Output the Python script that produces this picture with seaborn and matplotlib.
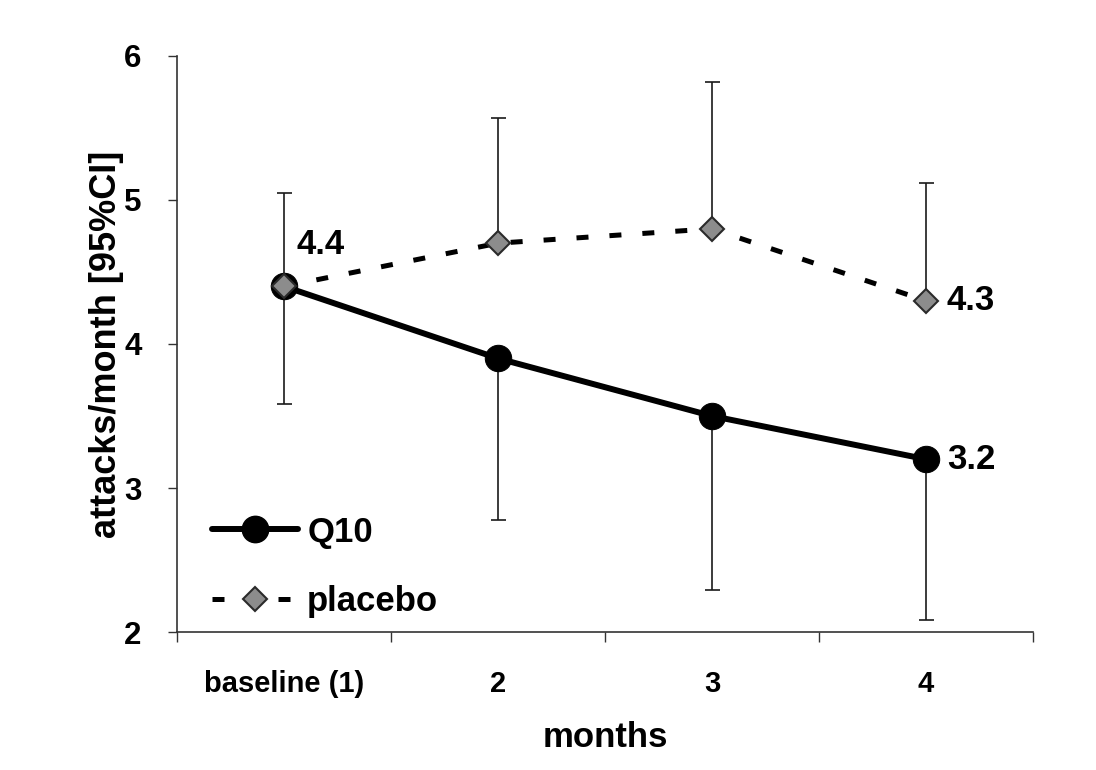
import matplotlib
matplotlib.use("Agg")
import matplotlib.pyplot as plt
from matplotlib.lines import Line2D
import seaborn as sns
import pandas as pd

# data
months = ["baseline (1)", "2", "3", "4"]
q10_mean = [4.4, 3.9, 3.5, 3.2]
q10_lower = [3.58, 2.78, 2.29, 2.08]
placebo_mean = [4.4, 4.7, 4.8, 4.3]
placebo_upper = [5.05, 5.57, 5.82, 5.12]

sns.set_style("white")
plt.rcParams['font.family'] = ['Liberation Sans', 'DejaVu Sans']
plt.rcParams['font.weight'] = 'bold'
plt.rcParams['text.color'] = 'black'
plt.rcParams['axes.labelcolor'] = 'black'
plt.rcParams['xtick.color'] = 'black'
plt.rcParams['ytick.color'] = 'black'

df = pd.DataFrame({
    'month': list(range(len(months))) * 2,
    'value': q10_mean + placebo_mean,
    'group': ['Q10'] * len(months) + ['placebo'] * len(months),
})

fig = plt.figure(figsize=(10.96, 7.7), dpi=100)
ax = fig.add_axes([0.1615, 0.1792, 0.781, 0.7481])

x = list(range(len(months)))

# error bars: Q10 downward, placebo upward
q10_err = [[m - lo for m, lo in zip(q10_mean, q10_lower)], [0] * len(months)]
pl_err = [[0] * len(months), [u - m for m, u in zip(placebo_mean, placebo_upper)]]
for yv, err in [(q10_mean, q10_err), (placebo_mean, pl_err)]:
    ax.errorbar(x, yv, yerr=err, fmt='none', ecolor='#1a1a1a',
                elinewidth=1.2, capsize=5.4, capthick=1.2, zorder=1)

q10 = df[df['group'] == 'Q10']
pl = df[df['group'] == 'placebo']
sns.lineplot(data=q10, x='month', y='value', ax=ax, color='black', lw=4.3,
             marker='o', markersize=19, markeredgecolor='black', zorder=3)
sns.lineplot(data=pl, x='month', y='value', ax=ax, color='black', lw=3.6, zorder=4)
ax.lines[-1].set_dashes((2.4, 4.2))
ax.plot(x, placebo_mean, ls='none', marker='D', markersize=12.5,
        markerfacecolor='#8c8c8c', markeredgecolor='#2a2a2a', markeredgewidth=1.5, zorder=5)

# value labels
lab_kw = dict(textcoords='offset points', fontsize=25, fontweight='bold', va='center')
ax.annotate(f"{placebo_mean[0]}", (x[0], placebo_mean[0]), xytext=(9, 30), **lab_kw)
ax.annotate(f"{placebo_mean[-1]}", (x[-1], placebo_mean[-1]), xytext=(15, 0), **lab_kw)
ax.annotate(f"{q10_mean[-1]}", (x[-1], q10_mean[-1]), xytext=(15, 0), **lab_kw)

ax.set_xlim(-0.5, len(months) - 0.5)
ax.set_ylim(2, 6)
ax.set_yticks([2, 3, 4, 5, 6])
ax.set_xticks(x)
ax.set_xticklabels(months, fontsize=21, fontweight='bold')
ax.set_xticks([i - 0.5 for i in range(len(months) + 1)], minor=True)
ax.tick_params(axis='x', which='major', bottom=True, length=0, pad=27)
ax.tick_params(axis='x', which='minor', bottom=True, length=7, width=1, color='#333333', direction='out')
ax.tick_params(axis='y', which='major', left=True, length=6.5, width=1, color='#333333',
               direction='out', labelsize=22.5, pad=19)
for lab in ax.get_yticklabels():
    lab.set_fontweight('bold')

ax.set_xlabel("months", fontsize=25, fontweight='bold', labelpad=17)
ax.set_ylabel("attacks/month [95%CI]", fontsize=26, fontweight='bold', labelpad=0)

sns.despine(ax=ax)
for s in ['left', 'bottom']:
    ax.spines[s].set_color('#333333')
    ax.spines[s].set_linewidth(1.2)

handles = [
    Line2D([], [], color='black', lw=4.3, marker='o', markersize=19),
    Line2D([], [], color='black', lw=3.6, dashes=(2.4, 4.2), marker='D', markersize=12.5,
           markerfacecolor='#8c8c8c', markeredgecolor='#2a2a2a', markeredgewidth=1.5),
]
ax.legend(handles, ["Q10", "placebo"], loc='lower left', bbox_to_anchor=(0.004, -0.03),
          frameon=False, prop={'size': 25, 'weight': 'bold'}, handlelength=2.5,
          handletextpad=0.25, labelspacing=1.05)

fig.savefig("out.png", dpi=100)
